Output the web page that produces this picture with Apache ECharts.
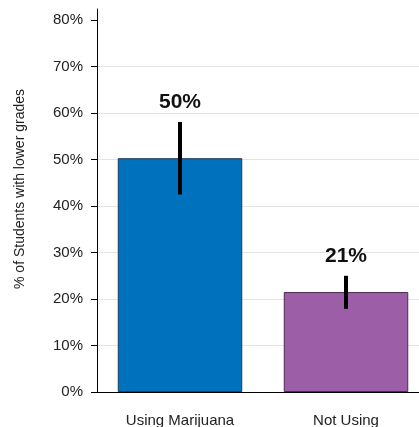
<!DOCTYPE html>
<html><head><meta charset="utf-8">
<script src="https://cdn.jsdelivr.net/npm/echarts@6/dist/echarts.min.js"></script>
<style>html,body{margin:0;padding:0;background:#fff;overflow:hidden}#c{width:419px;height:427px}</style>
</head><body><div id="c"></div>
<script>
const categories = ['Using Marijuana', 'Not Using'];
const values = [50.3, 21.5];
const errLow = [42.5, 17.9];
const errHigh = [58.1, 25.0];
const valueLabels = ['50%', '21%'];
const yTicks = [0, 10, 20, 30, 40, 50, 60, 70, 80];
const barColors = ['#0071bc', '#9c5ea6'];
const borderColors = ['#1d3a5c', '#4a2a55'];

const FONT = '"Liberation Sans", Arial, sans-serif';
const chart = echarts.init(document.getElementById('c'), null, {renderer: 'canvas'});
chart.setOption({
  animation: false,
  backgroundColor: '#fff',
  grid: {left: 97, top: 9, bottom: 35, width: 332, containLabel: false, outerBoundsMode: 'none'},
  xAxis: {
    type: 'category',
    data: categories,
    axisLine: {lineStyle: {color: '#000', width: 1}},
    axisTick: {show: false},
    axisLabel: {color: '#222', fontSize: 15, fontFamily: FONT, margin: 21}
  },
  yAxis: {
    type: 'value',
    min: 0, max: 82.4, interval: 10,
    name: '% of Students with lower grades',
    nameLocation: 'middle',
    nameGap: 70,
    nameTextStyle: {color: '#222', fontSize: 14, fontFamily: FONT, padding: [0, 0, 0, 23]},
    axisLine: {show: true, lineStyle: {color: '#000', width: 1}},
    axisTick: {show: true, length: 6, customValues: yTicks, lineStyle: {color: '#000'}},
    axisLabel: {customValues: yTicks, formatter: v => v + '%', color: '#222', fontSize: 15, fontFamily: FONT, margin: 14},
    splitLine: {show: true, showMaxLine: false, lineStyle: {color: '#e4e4e4', width: 1}}
  },
  series: [
    {
      type: 'bar',
      barWidth: '75%',
      data: values.map((v, i) => ({value: v, itemStyle: {color: barColors[i], borderColor: borderColors[i], borderWidth: 1}})),
      z: 2
    },
    {
      type: 'custom',
      z: 5,
      data: categories.map((c, i) => [i, errLow[i], errHigh[i]]),
      encode: {x: 0, y: [1, 2]},
      renderItem: function (params, api) {
        const x = api.value(0);
        const lo = api.coord([x, api.value(1)]);
        const hi = api.coord([x, api.value(2)]);
        return {
          type: 'group',
          children: [
            {type: 'line', shape: {x1: lo[0], y1: lo[1], x2: hi[0], y2: hi[1]}, style: {stroke: '#000', lineWidth: 4}},
            {type: 'text', style: {text: valueLabels[params.dataIndex], x: hi[0], y: hi[1] - 20, align: 'center', verticalAlign: 'middle', fontSize: 21, fontWeight: 'bold', fontFamily: FONT, fill: '#111'}}
          ]
        };
      }
    }
  ]
});
</script></body></html>
